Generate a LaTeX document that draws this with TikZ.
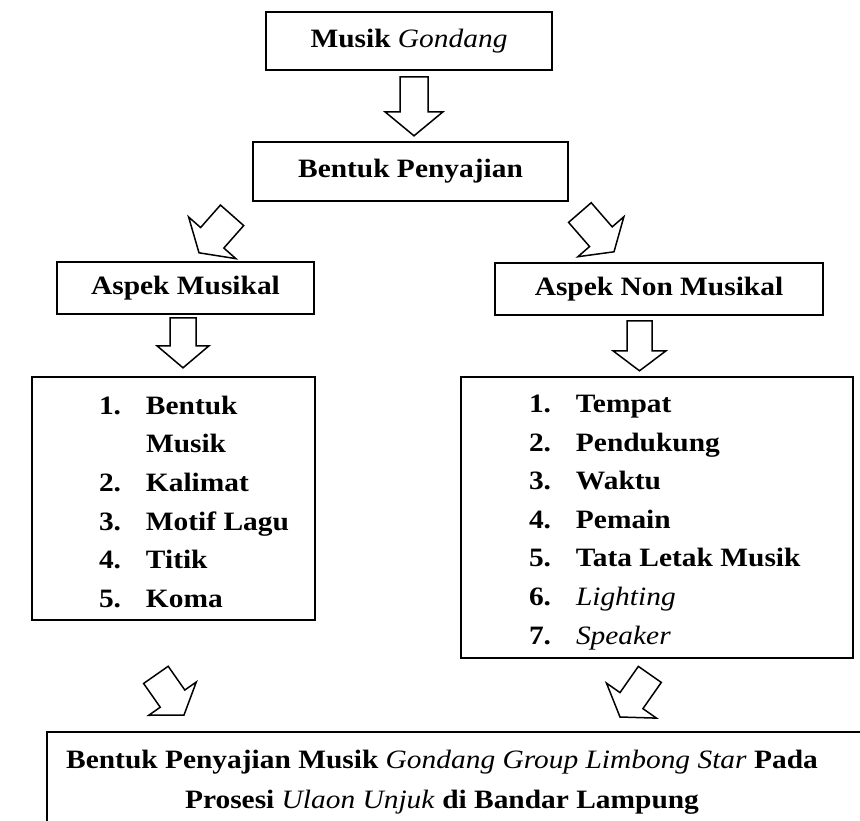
\documentclass[tikz,border=0pt]{standalone}
\usepackage{fontspec}
\setmainfont{Liberation Serif}[FakeStretch=1.11]

\newcommand{\ital}[1]{\textmd{\textit{#1}}}
\newcommand{\numitem}[2]{\makebox[47pt][l]{#1}#2}

\begin{document}
\begin{tikzpicture}
            [
                x=1pt, y=-1pt,
                box/.style={draw, line width=2.4pt, inner sep=0pt},
                listtext/.style={inner sep=0pt, align=left},
                % block arrow, tip at the origin: shaft, head, length, head length
                pics/blockarr/.style n args={4}{code={
                    \draw [line width=1.5pt, line join=miter, fill=white]
                        (0,0) -- (-#4,{#2/2}) -- (-#4,{#1/2}) -- (-#3,{#1/2})
                        -- (-#3,{-#1/2}) -- (-#4,{-#1/2}) -- (-#4,{-#2/2}) -- cycle;
                }},
                font=\fontsize{26.5}{38.6}\selectfont\bfseries
            ]
            \clip (0,0) rectangle (860,820);

            % boxes
            \node [box, minimum width=286pt, minimum height=58pt] (musik) at (409,41)
                {Musik \ital{Gondang}};
            \node [box, minimum width=315pt, minimum height=59pt] (penyajian) at (410.5,171.5)
                {Bentuk Penyajian};
            \node [box, minimum width=257pt, minimum height=52pt] (musikal) at (185.5,288)
                {Aspek Musikal};
            \node [box, minimum width=328pt, minimum height=52pt] (nonmusikal) at (659,289)
                {Aspek Non Musikal};
            \node [box, minimum width=283pt, minimum height=243pt] (mbox) at (173.5,498.5) {};
            \node [box, minimum width=392pt, minimum height=281pt] (nbox) at (657,517.5) {};
            \node [box, anchor=north west, minimum width=830pt, minimum height=120pt]
                (result) at (46,731) {};

            % lists
            \node [listtext, anchor=north west] (mlist) at ([shift={(68pt,-20pt)}]mbox.north west) {
                \numitem{1.}{Bentuk} \\
                \numitem{}{Musik} \\
                \numitem{2.}{Kalimat} \\
                \numitem{3.}{Motif Lagu} \\
                \numitem{4.}{Titik} \\
                \numitem{5.}{Koma}
            };
            \node [listtext, anchor=north west] (nlist) at ([shift={(69pt,-19pt)}]nbox.north west) {
                \numitem{1.}{Tempat} \\
                \numitem{2.}{Pendukung} \\
                \numitem{3.}{Waktu} \\
                \numitem{4.}{Pemain} \\
                \numitem{5.}{Tata Letak Musik} \\
                \numitem{6.}{\ital{Lighting}} \\
                \numitem{7.}{\ital{Speaker}}
            };
            \node [inner sep=0pt, align=center, anchor=north,
                font=\fontsize{26.5}{40}\selectfont\bfseries]
                (resulttext) at ([shift={(396pt,-19pt)}]result.north west) {
                Bentuk Penyajian Musik \ital{Gondang Group Limbong Star} Pada \\
                Prosesi \ital{Ulaon Unjuk} di Bandar Lampung
            };

            % arrows
            \pic [rotate=-90] (a1) at ([shift={(3.5pt,5pt)}]penyajian.north) {blockarr={28}{58}{59}{24}};
            \pic [rotate=-131.4] (a2) at ([shift={(13.5pt,8pt)}]musikal.north) {blockarr={31}{63}{50}{20}};
            \pic [rotate=-49] (a3) at ([shift={(-45pt,10pt)}]nonmusikal.north) {blockarr={30}{61}{52}{20}};
            \pic [rotate=-90] (a4) at ([shift={(9.5pt,8pt)}]mbox.north) {blockarr={26}{52}{50}{22}};
            \pic [rotate=-90] (a5) at ([shift={(-17.5pt,5pt)}]nbox.north) {blockarr={25}{53}{50}{20}};
            \pic [rotate=-55] (a6) at ([shift={(10.5pt,16pt)}]mbox.south |- result.north) {blockarr={30}{58}{49}{20}};
            \pic [rotate=-125] (a7) at ([shift={(-37pt,14pt)}]nbox.south |- result.north) {blockarr={28}{61}{52}{20}};
        \end{tikzpicture}
\end{document}
